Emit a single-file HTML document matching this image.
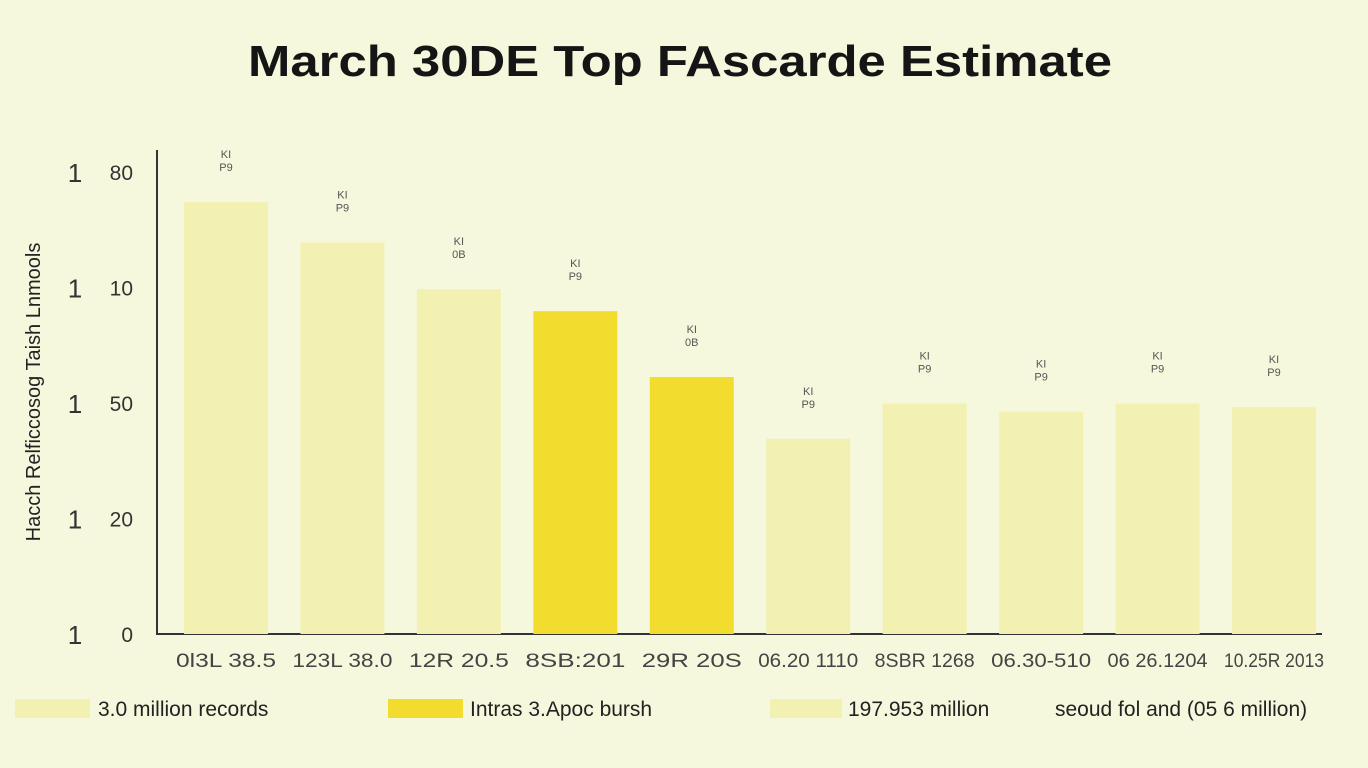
<!DOCTYPE html>
<html><head><meta charset="utf-8"><style>
body{margin:0;background:#f6f8dd;font-family:"Liberation Sans",sans-serif;}
svg{display:block}
</style></head><body>
<svg width="1368" height="768" id="c">
<rect width="1368" height="768" fill="#f6f8dd"/>
<text x="680" y="76" text-anchor="middle" font-size="44" font-weight="bold" fill="#151515" textLength="864" lengthAdjust="spacingAndGlyphs">March 30DE Top FAscarde Estimate</text>
<text transform="translate(40,392) rotate(-90)" text-anchor="middle" font-size="20" fill="#222">Hacch Relficcosog Taish Lnmools</text>
<line x1="157" y1="150" x2="157" y2="635" stroke="#333" stroke-width="2"/>
<line x1="157" y1="634" x2="1322" y2="634" stroke="#333" stroke-width="2"/>
<g id="g"></g>
<rect x="15" y="699" width="75" height="19" fill="#f3f1b2"/>
<text x="98" y="716" font-size="21" fill="#222">3.0 million records</text>
<rect x="388" y="699" width="75" height="19" fill="#f2dc2e"/>
<text x="470" y="716" font-size="21" fill="#222">Intras 3.Apoc bursh</text>
<rect x="770" y="699" width="72" height="19" fill="#f3f1b2"/>
<text x="848" y="716" font-size="21" fill="#222">197.953 million</text>
<text x="1055" y="716" font-size="21" fill="#222">seoud fol and (05 6 million)</text>
</svg>
<script>
const categories=["0l3L 38.5","123L 38.0","12R 20.5","8SB:201","29R 20S","06.20 1110","8SBR 1268","06.30-510","06 26.1204","10.25R 2013"];
const values=[74.8,67.8,59.7,55.9,44.5,33.8,39.9,38.5,39.9,39.3];
const highlight=[0,0,0,1,1,0,0,0,0,0];
const tickValues=[0,20,40,60,80];
const tickLabels=["0","20","50","10","80"];
const topLabels=["P9","P9","0B","P9","0B","P9","P9","P9","P9","P9"];
const ns="http://www.w3.org/2000/svg",g=document.getElementById('g');
function y(v){return 634-v/80*462;}
function x(i){return 226+i*(1274-226)/(categories.length-1);}
function mk(t,a,txt){const e=document.createElementNS(ns,t);for(const k in a)e.setAttribute(k,a[k]);if(txt!=null)e.textContent=txt;g.appendChild(e);return e;}
tickValues.forEach((v,i)=>{
 const t=mk('text',{x:133,y:y(v)+8,'text-anchor':'end','font-size':21,fill:'#333'},tickLabels[i]);
 
 
 const m=mk('text',{x:75,y:y(v)+10,'text-anchor':'middle','font-size':26,fill:'#333'},'1');
 
 
});
values.forEach((v,i)=>{
 const cx=x(i),w=84;
 const r=mk('rect',{x:cx-w/2,y:y(v),width:w,height:634-y(v),fill:highlight[i]?'#f2dc2e':'#f3f1b2'});
 
 
 const a=mk('text',{x:cx,y:y(v)-44,'text-anchor':'middle','font-size':11,fill:'#555'},'KI');
 
 
 const b=mk('text',{x:cx,y:y(v)-31,'text-anchor':'middle','font-size':11,fill:'#555'},topLabels[i]);
 
 
 const c=mk('text',{x:cx,y:667,'text-anchor':'middle','font-size':19,fill:'#444',textLength:100,lengthAdjust:'spacingAndGlyphs'},categories[i]);
 
 
});
</script>
</body></html>
